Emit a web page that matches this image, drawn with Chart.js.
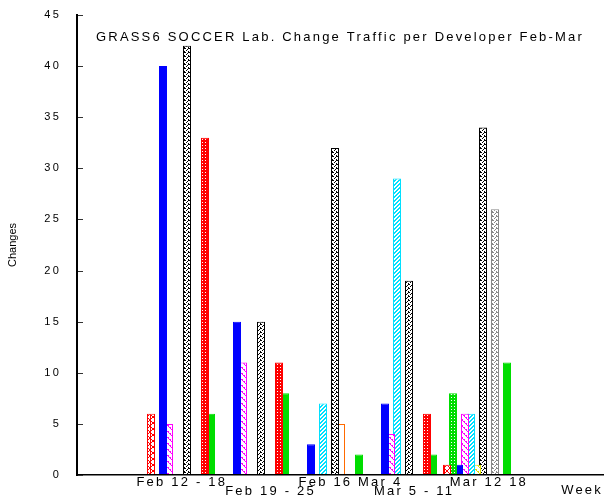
<!DOCTYPE html>
<html>
<head>
<meta charset="utf-8">
<script src="https://cdn.jsdelivr.net/npm/chart.js@4.4.1/dist/chart.umd.min.js"></script>
<style>
  html, body { margin: 0; padding: 0; background: #fff; overflow: hidden; }
  canvas { display: block; }
</style>
</head>
<body>
<canvas id="c" width="605" height="495"></canvas>
<script>
// Weeks (one cluster of bars per week)
const weeks = ['Feb 12 - 18', 'Feb 19 - 25', 'Feb 16 Mar 4', 'Mar 5 - 11', 'Mar 12 18'];
// where each week label sits along the x axis (week index units)
const weekLabelAt = [0.01, 1.21, 2.29, 3.15, 4.16];

// Changes per developer, one value per week
const dev01 = [6, 0, 0, 0, 1];
const dev02 = [0, 0, 0, 0, 8];
const dev03 = [40, 15, 3, 7, 1];
const dev04 = [5, 11, 0, 4, 6];
const dev05 = [0, 0, 7, 29, 6];
const dev06 = [0, 0, 0, 0, 1];
const dev07 = [42, 15, 32, 19, 34];
const dev08 = [0, 0, 5, 0, 0];
const dev09 = [0, 0, 0, 0, 26];
const dev10 = [33, 11, 0, 6, 0];
const dev11 = [6, 8, 2, 2, 11];

const chartTitle = 'GRASS6 SOCCER Lab. Change Traffic per Developer Feb-Mar';
const yLabel = 'Changes';
const xLabel = 'Week';

const FONT = "'Liberation Sans', Arial, Helvetica, sans-serif";
const SPACING = '2.2px';

const canvas = document.getElementById('c');
const ctx = canvas.getContext('2d');

// condensed face for the value-axis title when one is installed
function hasFace(name) {
  ctx.font = '20px monospace';
  const a = ctx.measureText('Changes wwii').width;
  ctx.font = "20px '" + name + "', monospace";
  return ctx.measureText('Changes wwii').width !== a;
}
const yTitleFont = hasFace('Liberation Sans Narrow')
  ? { family: "'Liberation Sans Narrow', sans-serif", size: 12 }
  : { family: FONT, size: 11 };

// gnuplot-like fill patterns
function makeFill(color, kind) {
  if (kind === 'solid') return color;
  const size = { cross: 6, rings: 3, back: 6, fwd: 4, speckle: 4, none: 1 }[kind];
  const t = document.createElement('canvas');
  t.width = t.height = size;
  const g = t.getContext('2d');
  g.fillStyle = '#fff';
  g.fillRect(0, 0, size, size);
  g.fillStyle = color;
  const dot = (x, y) => g.fillRect((x + size) % size, (y + size) % size, 1, 1);
  if (kind === 'cross') for (let i = 0; i < size; i++) { dot(i, i); dot(size - 1 - i, i); dot(0, i); }
  if (kind === 'rings') { g.fillRect(0, 0, 3, 3); g.fillStyle = '#fff'; dot(1, 1); }
  if (kind === 'back') for (let i = 0; i < size; i++) { dot(i, i); if (i % 2) dot(i + 1, i); }
  if (kind === 'fwd') for (let i = 0; i < size; i++) { dot(size - 1 - i, i); dot(size - 2 - i, i); }
  if (kind === 'speckle') [[0, 0], [1, 0], [3, 1], [2, 2], [0, 3]].forEach(p => dot(p[0], p[1]));
  return ctx.createPattern(t, 'repeat');
}

const series = [
  { values: dev01, color: '#ff0000', fill: 'cross' },
  { values: dev02, color: '#00dd00', fill: 'rings' },
  { values: dev03, color: '#0000ff', fill: 'solid' },
  { values: dev04, color: '#ff00ff', fill: 'back' },
  { values: dev05, color: '#00e0ff', fill: 'fwd' },
  { values: dev06, color: '#e0e000', fill: 'back' },
  { values: dev07, color: '#000000', fill: 'speckle' },
  { values: dev08, color: '#ff6a00', fill: 'none' },
  { values: dev09, color: '#888888', fill: 'speckle' },
  { values: dev10, color: '#ff0000', fill: 'rings' },
  { values: dev11, color: '#00dd00', fill: 'solid' }
];

// x range chosen so each week spans a whole number of pixels
const X_MIN = -1.4054, X_MAX = 5.7027;

const decor = {
  id: 'decor',
  beforeLayout(chart) { chart.ctx.letterSpacing = SPACING; },
  beforeDraw(chart) { chart.ctx.letterSpacing = '0px'; },
  beforeDatasetsDraw(chart) { chart.ctx.letterSpacing = SPACING; },
  afterDraw(chart) {
    const c = chart.ctx, a = chart.chartArea, y = chart.scales.y;
    c.save();
    // inward tick marks on the value axis
    c.strokeStyle = '#333';
    c.lineWidth = 1;
    y.ticks.forEach(t => {
      const py = Math.round(y.getPixelForValue(t.value)) + 0.5;
      c.beginPath();
      c.moveTo(a.left + 1, py);
      c.lineTo(a.left + 6, py);
      c.stroke();
    });
    // chart title inside the plot area
    c.letterSpacing = SPACING;
    c.font = '13px ' + FONT;
    c.fillStyle = '#000';
    c.textAlign = 'center';
    c.textBaseline = 'middle';
    c.fillText(chartTitle, (a.left + a.right) / 2, a.top + 22);
    c.restore();
  }
};

new Chart(ctx, {
  type: 'bar',
  data: {
    datasets: series.map((s, k) => ({
      label: 'Developer ' + (k + 1),
      data: s.values.map((v, i) => ({ x: i, y: v })),
      backgroundColor: makeFill(s.color, s.fill),
      borderColor: s.color,
      borderWidth: 1,
      inflateAmount: 0,
      categoryPercentage: 0.892,
      barPercentage: 1.3333
    }))
  },
  options: {
    responsive: false,
    animation: false,
    devicePixelRatio: 1,
    layout: { padding: { top: 15, right: 2, bottom: 0, left: 0 } },
    plugins: { legend: { display: false }, tooltip: { enabled: false }, title: { display: false } },
    scales: {
      x: {
        type: 'linear',
        position: 'bottom',
        weight: 0,
        offset: false,
        min: X_MIN,
        max: X_MAX,
        afterBuildTicks: s => { s.ticks = weeks.map((w, i) => ({ value: i })); },
        grid: { display: false, drawTicks: false },
        border: { color: '#000', width: 1.5, z: 1 },
        ticks: { display: false }
      },
      weekAxis: {
        type: 'linear',
        position: 'bottom',
        weight: 1,
        offset: false,
        min: X_MIN,
        max: X_MAX,
        grid: { display: false, drawTicks: false, z: 1 },
        border: { display: false },
        afterBuildTicks: s => { s.ticks = weekLabelAt.map(v => ({ value: v })); },
        afterFit: s => { s.height = 20; },
        ticks: {
          z: 1,
          autoSkip: false,
          maxRotation: 0,
          padding: 3,
          color: '#000',
          font: { family: FONT, size: 13, lineHeight: '9px' },
          callback: (v, i) => (i % 2 ? ['', weeks[i]] : [weeks[i]])
        },
        title: {
          display: true,
          text: xLabel,
          align: 'end',
          color: '#000',
          padding: 0,
          font: { family: FONT, size: 13, lineHeight: '9px' }
        }
      },
      y: {
        min: 0,
        max: 45,
        grid: { display: true, drawOnChartArea: false, drawTicks: true, tickLength: 16, tickColor: 'rgba(0,0,0,0)' },
        border: { color: '#000', width: 2, z: 1 },
        afterFit: s => { s.width = 77; },
        ticks: {
          stepSize: 5,
          z: 1,
          padding: 0,
          color: '#000',
          font: { family: FONT, size: 11 }
        },
        title: {
          display: true,
          text: yLabel,
          color: '#000',
          padding: { top: 6, bottom: 0 },
          font: yTitleFont
        }
      }
    }
  },
  plugins: [decor]
});
</script>
</body>
</html>
